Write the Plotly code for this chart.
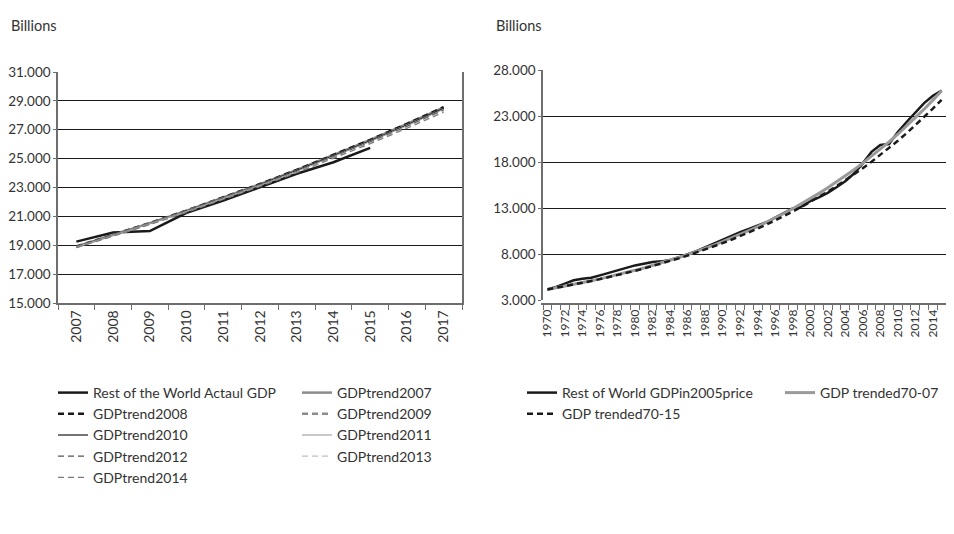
import plotly.graph_objects as go

W, H = 954, 534
OFF = 8  # page body margin offset compensation (pixels)

# ---------------- Left chart data ----------------
years_left = [2007, 2008, 2009, 2010, 2011, 2012, 2013, 2014, 2015, 2016, 2017]
actual_years_left = [2007, 2008, 2009, 2010, 2011, 2012, 2013, 2014, 2015]
actual_left = [19250, 19880, 19980, 21250, 22100, 23050, 23950, 24750, 25750]

trend2007 = [18900, 19700, 20530, 21390, 22290, 23230, 24210, 25230, 26290, 27400, 28550]
trend2008 = [18910, 19710, 20540, 21400, 22300, 23240, 24220, 25240, 26300, 27410, 28560]
trend2009 = [18880, 19680, 20500, 21360, 22250, 23180, 24150, 25160, 26210, 27310, 28450]
trend2010 = [18900, 19690, 20510, 21370, 22270, 23200, 24170, 25180, 26230, 27330, 28480]
trend2011 = [18890, 19680, 20500, 21350, 22240, 23170, 24130, 25140, 26190, 27280, 28420]
trend2012 = [18870, 19660, 20480, 21330, 22220, 23140, 24100, 25100, 26140, 27230, 28360]
trend2013 = [18850, 19640, 20460, 21310, 22190, 23110, 24060, 25050, 26080, 27160, 28280]
trend2014 = [18840, 19620, 20430, 21280, 22160, 23070, 24020, 25000, 26030, 27100, 28210]

# ---------------- Right chart data ----------------
years_right = list(range(1970, 2016))
actual_right = [4150, 4420, 4780, 5150, 5300, 5420, 5680, 5960, 6220, 6500,
                6760, 6950, 7120, 7200, 7360, 7640, 7960, 8300, 8720, 9150,
                9520, 10020, 10380, 10720, 11050, 11450, 11950, 12480, 12950, 13150,
                13750, 14150, 14650, 15250, 15900, 16750, 17850, 19100, 19850, 19950,
                21250, 22350, 23400, 24400, 25200, 25750]
trend70_07 = [4150, 4322, 4501, 4687, 4881, 5083, 5293, 5512, 5740, 5978,
              6225, 6483, 6751, 7031, 7322, 7625, 7940, 8269, 8611, 8968,
              9339, 9726, 10128, 10548, 10984, 11439, 11912, 12405, 12919, 13454,
              14011, 14591, 15195, 15824, 16479, 17161, 17872, 18612, 19382, 20185,
              21020, 21891, 22797, 23741, 24724, 25747]
trend70_15 = [4150, 4318, 4493, 4675, 4864, 5061, 5266, 5479, 5701, 5932,
              6172, 6422, 6682, 6953, 7234, 7527, 7832, 8149, 8479, 8822,
              9180, 9551, 9938, 10340, 10759, 11195, 11648, 12120, 12610, 13121,
              13652, 14205, 14780, 15379, 16002, 16650, 17324, 18025, 18755, 19514,
              20305, 21127, 21982, 22872, 23799, 24762]

left_ticks = [str(y) for y in years_left]
right_tickvals = list(range(1970, 2015, 2))

FONT = "Lato, Roboto, sans-serif"
TXT = "#333333"
DASH = "6px,4px"

fig = go.Figure()

def add(x, y, name, color, width, dash, xa, ya, legend, group, lw):
    fig.add_trace(go.Scatter(
        x=x, y=y, name=name, mode="lines",
        line=dict(color=color, width=width, dash=dash),
        xaxis=xa, yaxis=ya, legend=legend, legendgroup=group, legendwidth=lw,
        hoverinfo="skip"))

# left chart (legend column 1: actual, 2008, 2010, 2012, 2014; column 2: 2007, 2009, 2011, 2013)
add(actual_years_left, actual_left, "Rest of the World Actaul GDP", "#1a1a1a", 2.5, "solid", "x", "y", "legend", "L1", 199)
add(years_left, trend2007, "GDPtrend2007", "#8c8c8c", 2.5, "solid", "x", "y", "legend", "L2", 115)
add(years_left, trend2008, "GDPtrend2008", "#1a1a1a", 2.5, DASH, "x", "y", "legend", "L1", 199)
add(years_left, trend2009, "GDPtrend2009", "#8c8c8c", 2.5, DASH, "x", "y", "legend", "L2", 115)
add(years_left, trend2010, "GDPtrend2010", "#1a1a1a", 1.2, "solid", "x", "y", "legend", "L1", 199)
add(years_left, trend2011, "GDPtrend2011", "#a6a6a6", 1.2, "solid", "x", "y", "legend", "L2", 115)
add(years_left, trend2012, "GDPtrend2012", "#555555", 1.2, DASH, "x", "y", "legend", "L1", 199)
add(years_left, trend2013, "GDPtrend2013", "#c0c0c0", 1.2, DASH, "x", "y", "legend", "L2", 115)
add(years_left, trend2014, "GDPtrend2014", "#7a7a7a", 1.2, DASH, "x", "y", "legend", "L1", 199)

# right chart
add(years_right, actual_right, "Rest of World GDPin2005price", "#1a1a1a", 2.5, "solid", "x2", "y2", "legend2", "R1", 213)
add(years_right, trend70_07, "GDP trended70-07", "#9a9a9a", 3, "solid", "x2", "y2", "legend2", "R2", 128)
add(years_right, trend70_15, "GDP trended70-15", "#1a1a1a", 2.5, DASH, "x2", "y2", "legend2", "R1", 213)

AX = "#6e6e6e"
GRID = "#1a1a1a"

def px_x(p):
    return (p - OFF) / W

def px_y(p):
    return 1 - (p - OFF) / H

def xaxis(domain, rng, tickvals, ticktext, tick0, size):
    return dict(domain=domain, range=rng, tickmode="array", tickvals=tickvals, ticktext=ticktext,
                tickangle=-90, ticks="", showgrid=False, zeroline=False,
                showline=True, linecolor=AX, linewidth=1.5, automargin=False,
                tickfont=dict(family=FONT, size=size, color=TXT),
                minor=dict(tickmode="linear", tick0=tick0, dtick=1, ticks="outside",
                           ticklen=5, tickcolor=AX, tickwidth=1.2, showgrid=False))

def yaxis(domain, rng, dtick, anchor):
    return dict(domain=domain, range=rng, dtick=dtick, tick0=rng[0], tickformat=",d",
                ticks="outside", ticklen=3, tickcolor=AX, tickwidth=1.2,
                showgrid=True, gridcolor=GRID, gridwidth=1.3, zeroline=False,
                showline=True, linecolor=AX, linewidth=1.5, mirror=True,
                anchor=anchor, automargin=False,
                tickfont=dict(family=FONT, size=13.5, color=TXT))

fig.update_layout(
    width=W, height=H,
    margin=dict(l=0, r=0, t=0, b=0, autoexpand=False),
    paper_bgcolor="white", plot_bgcolor="white",
    separators=",.",
    showlegend=True,
    xaxis=xaxis([px_x(58), px_x(462)], [2006.5, 2017.5], years_left, left_ticks, 2006.5, 14),
    yaxis=yaxis([px_y(303), px_y(72)], [15000, 31000], 2000, "x"),
    xaxis2=xaxis([px_x(543), px_x(946)], [1969.5, 2015.5], right_tickvals,
                 [str(v) for v in right_tickvals], 1969.5, 12),
    yaxis2=yaxis([px_y(300), px_y(70)], [3000, 28000], 5000, "x2"),
    legend=dict(orientation="h", traceorder="grouped", entrywidthmode="pixels",
                x=45 / W, xanchor="left", y=1 - 369 / H, yanchor="top",
                bgcolor="rgba(0,0,0,0)", font=dict(family=FONT, size=14, color=TXT)),
    legend2=dict(orientation="h", traceorder="grouped", entrywidthmode="pixels",
                 x=514 / W, xanchor="left", y=1 - 369 / H, yanchor="top",
                 bgcolor="rgba(0,0,0,0)", font=dict(family=FONT, size=14, color=TXT)),
    annotations=[
        dict(text="Billions", xref="paper", yref="paper", x=1 / W, y=1 - 18 / H,
             xanchor="left", yanchor="middle", showarrow=False,
             font=dict(family=FONT, size=14.5, color=TXT)),
        dict(text="Billions", xref="paper", yref="paper", x=486 / W, y=1 - 18 / H,
             xanchor="left", yanchor="middle", showarrow=False,
             font=dict(family=FONT, size=14.5, color=TXT)),
    ],
)

fig.write_html("out.html")
